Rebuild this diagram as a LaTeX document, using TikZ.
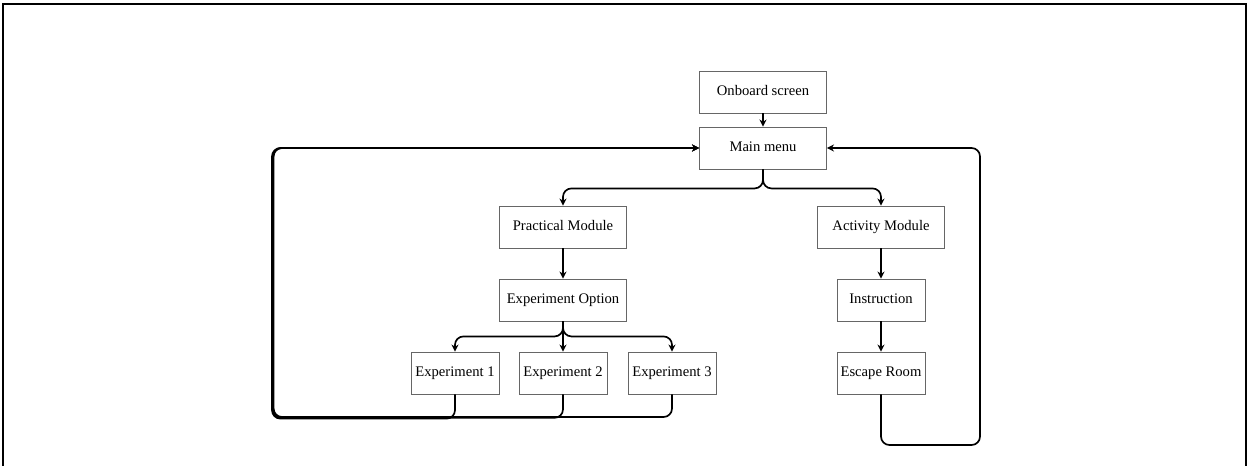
\documentclass[tikz,border=0pt]{standalone}
\usepackage{fontspec}
\setmainfont{Liberation Serif}
\usepackage{tikz}
\usetikzlibrary{arrows.meta}

\begin{document}
\begin{tikzpicture}[x=0.025cm,y=-0.025cm,
  box/.style={draw=black!60,line width=0.6pt,minimum width=3.175cm,minimum height=1.05cm,inner sep=0pt,text height=7.2pt,text depth=2.2pt,font=\fontsize{10.4}{12}\selectfont},
  smallbox/.style={box,minimum width=2.2cm},
  link/.style={line width=1.2pt,-{Stealth[length=5pt,width=5pt]}},
  back/.style={line width=1.2pt,rounded corners=6pt,-{Stealth[length=5pt,width=5pt]}}]
\useasboundingbox (0,0) rectangle (1249,466);
\draw [line width=1.6pt] (3,470)--(3,4)--(1246,4)--(1246,470);
% boxes
\node[box] (onboard) at (763,92) {Onboard screen};
\node[box] (mainmenu) at (763,148) {Main menu};
\node[box] (practical) at (563,227) {Practical Module};
\node[box] (option) at (563,300) {Experiment Option};
\node[smallbox] (exp1) at (455,373) {Experiment 1};
\node[smallbox] (exp2) at (563,373) {Experiment 2};
\node[smallbox] (exp3) at (672,373) {Experiment 3};
\node[box] (activity) at (881,227) {Activity Module};
\node[smallbox] (instruction) at (881,300) {Instruction};
\node[smallbox] (escape) at (881,373) {Escape Room};
\coordinate (rloop) at (980,445);
\coordinate (lloop1) at (272,418.6);
\coordinate (lloop2) at (272.8,417.8);
\coordinate (lloop3) at (273.6,417);
% arrows
\draw [link] (onboard)--(mainmenu);
\draw [link,rounded corners=6pt] (mainmenu.south)--++(0,19)-|(practical.north);
\draw [link,rounded corners=6pt] (mainmenu.south)--++(0,19)-|(activity.north);
\draw [link] (practical)--(option);
\draw [link,rounded corners=6pt] (option.south)--++(0,15)-|(exp1.north);
\draw [link] (option)--(exp2);
\draw [link,rounded corners=6pt] (option.south)--++(0,15)-|(exp3.north);
\draw [link] (activity)--(instruction);
\draw [link] (instruction)--(escape);
% loops back to main menu
\draw [back] (escape.south)|-(rloop)|-(mainmenu.east);
\draw [back] (exp1.south)|-(lloop1)|-(mainmenu.west);
\draw [back] (exp2.south)|-(lloop2)|-(mainmenu.west);
\draw [back] (exp3.south)|-(lloop3)|-(mainmenu.west);
\end{tikzpicture}
\end{document}
